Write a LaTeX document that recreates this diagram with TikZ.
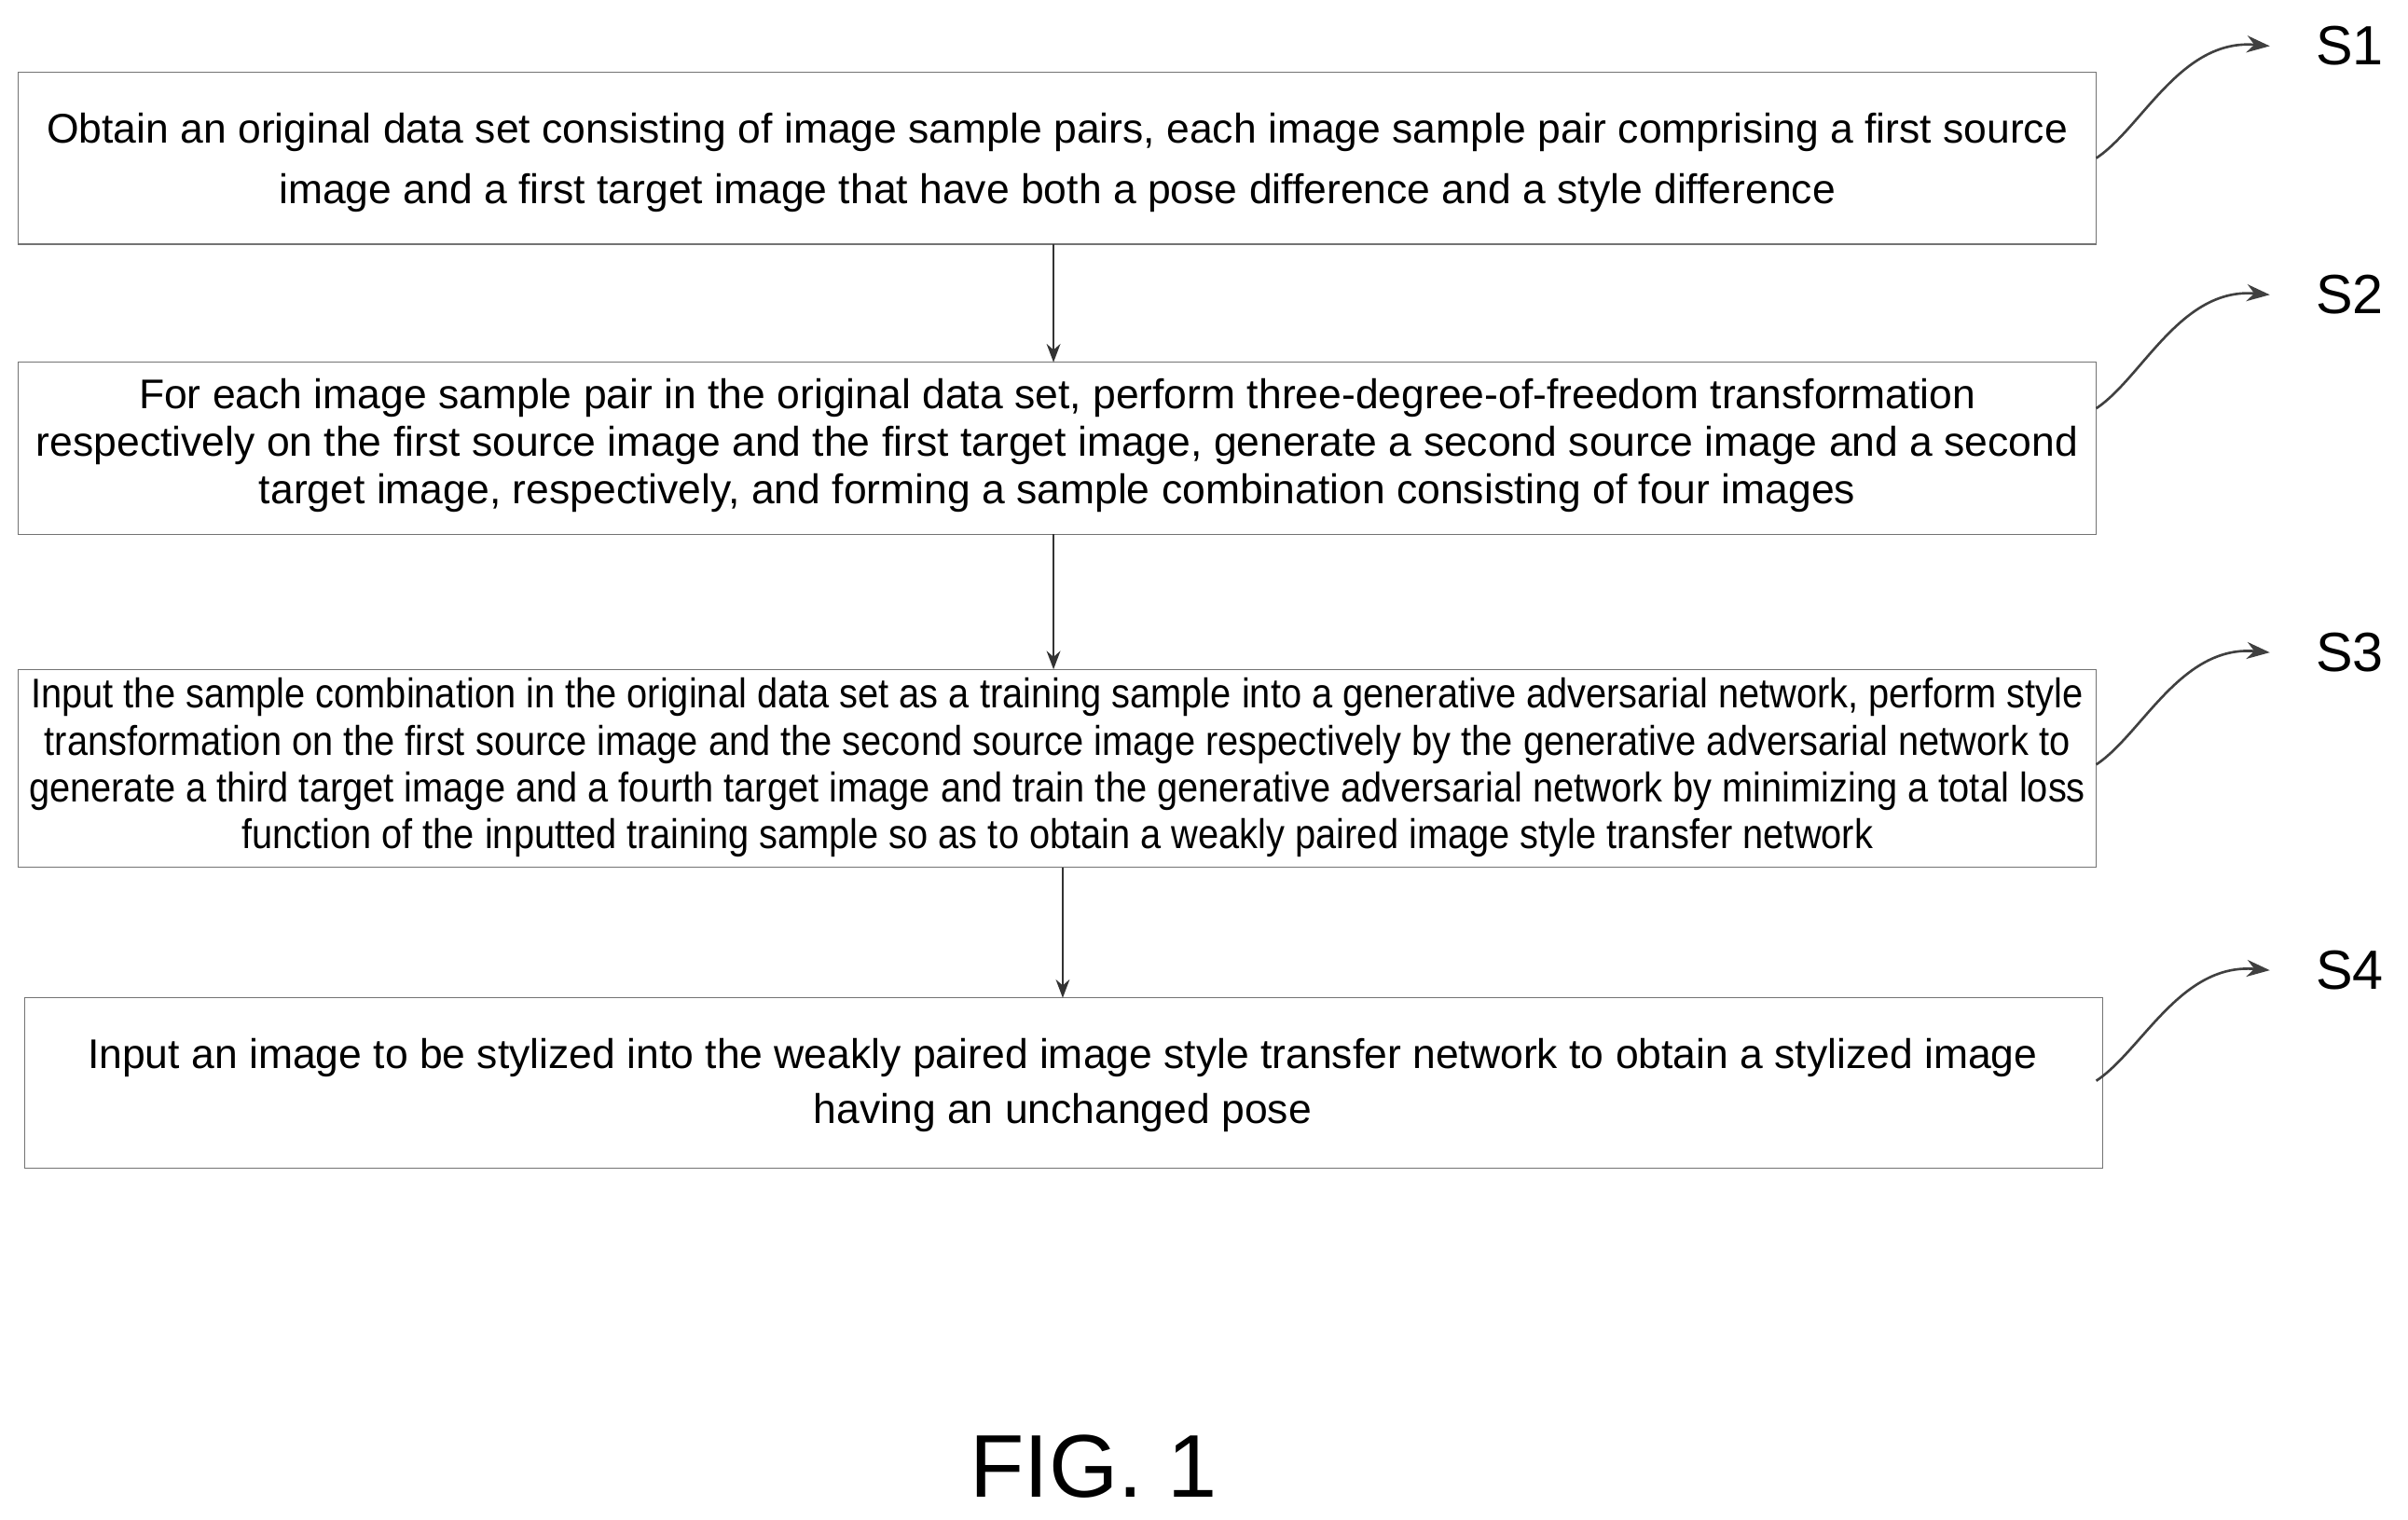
\documentclass[tikz,border=0pt]{standalone}
\usepackage{fontspec}
\setmainfont{Liberation Sans}
\newfontfamily\narc[FakeStretch=0.895]{Liberation Sans}
\usetikzlibrary{arrows.meta}
\begin{document}
\begin{tikzpicture}[x=1pt,y=-1pt,
 box/.style={draw=black!55,line width=0.8pt},
 txt/.style={align=center,inner sep=0pt},
 flow/.style={-{Stealth[length=12pt,width=9pt]},line width=1.2pt,black!80},
 tag/.style={-{Stealth[length=15pt,width=11pt]},line width=1.6pt,black!75},
 lab/.style={font=\fontsize{36}{40}\selectfont,anchor=center}]
\useasboundingbox (0,0) rectangle (1568,990);
\draw[box] (12,47) rectangle (1365,159);
\node[txt,font=\fontsize{27}{39}\selectfont] (t1) at (688.5,106) {Obtain an original data set consisting of image sample pairs, each image sample pair comprising a first source\\image and a first target image that have both a pose difference and a style difference};
\draw[box] (12,236) rectangle (1365,348);
\node[txt,font=\fontsize{27}{31}\selectfont] (t2) at (688.5,290) {For each image sample pair in the original data set, perform three-degree-of-freedom transformation\\respectively on the first source image and the first target image, generate a second source image and a second\\target image, respectively, and forming a sample combination consisting of four images};
\draw[box] (12,436) rectangle (1365,565);
\node[txt,font=\narc\fontsize{27}{30.5}\selectfont] (t3) at (688.5,500) {Input the sample combination in the original data set as a training sample into a generative adversarial network, perform style\\transformation on the first source image and the second source image respectively by the generative adversarial network to\\generate a third target image and a fourth target image and train the generative adversarial network by minimizing a total loss\\function of the inputted training sample so as to obtain a weakly paired image style transfer network};
\draw[box] (16,650) rectangle (1369,761);
\node[txt,font=\fontsize{27}{36}\selectfont] (t4) at (692,707) {Input an image to be stylized into the weakly paired image style transfer network to obtain a stylized image\\having an unchanged pose};
\coordinate (a1) at (686,159); \coordinate (a2) at (686,236);
\coordinate (a3) at (686,348); \coordinate (a4) at (686,436);
\coordinate (a5) at (692,565); \coordinate (a6) at (692,650);
\draw[flow] (a1)--(a2); \draw[flow] (a3)--(a4); \draw[flow] (a5)--(a6);
\foreach \n/\y/\ly in {1/103/30,2/266/192,3/498/425,4/704/632}{
 \coordinate (s\n) at (1365,\y);
 \coordinate (e\n) at (1478,\ly);
 \draw[tag] (s\n) .. controls (1395,\y-20) and (1420,\ly-5) .. (e\n);
 \node[lab] (l\n) at (1530,\ly) {S\n};
}
\node[font=\fontsize{58}{60}\selectfont] (fig) at (712,955) {FIG. 1};
\end{tikzpicture}
\end{document}
